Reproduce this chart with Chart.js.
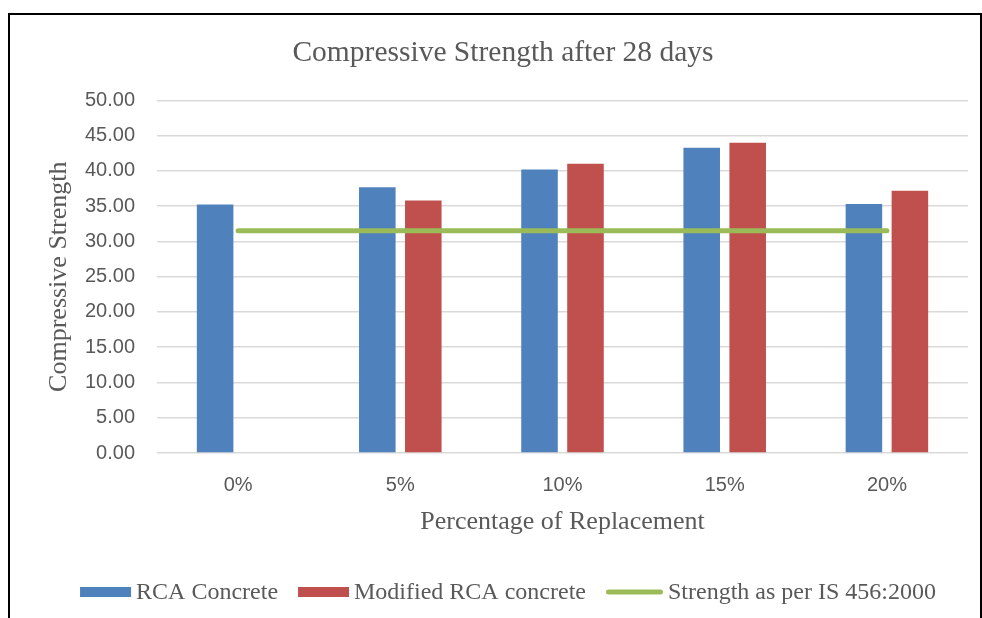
<!DOCTYPE html>
<html>
<head>
<meta charset="utf-8">
<script src="https://cdn.jsdelivr.net/npm/chart.js@4.4.0/dist/chart.umd.min.js"></script>
<style>
  html, body { margin: 0; padding: 0; background: #fff; }
  #wrap { position: relative; width: 982px; height: 618px; overflow: hidden; }
  #wrap canvas { position: absolute; left: 0; top: 0; }
  #frame {
    position: absolute; left: 8px; top: 13px; width: 970px; height: 700px;
    border-top: 2px solid #000; border-left: 2px solid #000; border-right: 2px solid #000;
    pointer-events: none;
  }
</style>
</head>
<body>
<div id="wrap">
  <canvas id="chart" width="982" height="618"></canvas>
  <div id="frame"></div>
</div>
<script>
// Replacement levels of recycled concrete aggregate
const categories = ['0%', '5%', '10%', '15%', '20%'];
// 28-day compressive strength (N/mm²)
const rcaConcrete = [35.25, 37.7, 40.2, 43.3, 35.3];
const modifiedRcaConcrete = [null, 35.8, 41.0, 44.0, 37.2];
// Target strength per IS 456:2000
const isTargetStrength = [31.5, 31.5, 31.5, 31.5, 31.5];
// Value axis
const yMin = 0;
const yMax = 50;
const yStep = 5;

const TEXT = '#595959';
const SERIF = "'Liberation Serif', 'Times New Roman', serif";
const SANS = "'Liberation Sans', Arial, sans-serif";

// Legend drawn under the axis title: filled swatches for bars, a thick rounded stroke for the line
const swatchLegend = {
  id: 'swatchLegend',
  afterDraw(chart, args, opts) {
    const ctx = chart.ctx;
    const items = chart.data.datasets.map(ds => ({
      label: ds.label,
      isLine: ds.type === 'line',
      color: ds.type === 'line' ? ds.borderColor : ds.backgroundColor
    }));
    ctx.save();
    ctx.font = opts.font;
    const widths = items.map(it => {
      const sw = it.isLine ? opts.lineSwatch : opts.barSwatch;
      return sw + opts.textGap + ctx.measureText(it.label).width;
    });
    const total = widths.reduce((a, b) => a + b, 0) + opts.itemGap * (items.length - 1);
    let x = opts.centerX - total / 2;
    const y = opts.y;
    items.forEach((it, i) => {
      const sw = it.isLine ? opts.lineSwatch : opts.barSwatch;
      if (it.isLine) {
        ctx.strokeStyle = it.color;
        ctx.lineWidth = 5;
        ctx.lineCap = 'round';
        ctx.beginPath();
        ctx.moveTo(x + 2.5, y);
        ctx.lineTo(x + sw - 2.5, y);
        ctx.stroke();
      } else {
        ctx.fillStyle = it.color;
        ctx.fillRect(x, y - 5, sw, 10);
      }
      ctx.fillStyle = TEXT;
      ctx.textAlign = 'left';
      ctx.textBaseline = 'middle';
      ctx.fillText(it.label, x + sw + opts.textGap, y + 1);
      x += widths[i] + opts.itemGap;
    });
    ctx.restore();
  }
};

new Chart(document.getElementById('chart'), {
  type: 'bar',
  data: {
    labels: categories,
    datasets: [
      {
        label: 'RCA Concrete',
        data: rcaConcrete,
        backgroundColor: '#4F81BD',
        borderWidth: 0,
        order: 1,
        categoryPercentage: 0.567,
        barPercentage: 0.795
      },
      {
        label: 'Modified RCA concrete',
        data: modifiedRcaConcrete,
        backgroundColor: '#C0504D',
        borderWidth: 0,
        order: 1,
        categoryPercentage: 0.567,
        barPercentage: 0.795
      },
      {
        type: 'line',
        label: 'Strength as per IS 456:2000',
        data: isTargetStrength,
        borderColor: '#9BBB59',
        backgroundColor: '#9BBB59',
        borderWidth: 5,
        borderCapStyle: 'round',
        pointRadius: 0,
        pointHoverRadius: 0,
        fill: false,
        tension: 0,
        order: 0
      }
    ]
  },
  options: {
    responsive: false,
    animation: false,
    devicePixelRatio: 1,
    layout: { padding: { top: 36, left: 38, right: 14, bottom: 80 } },
    plugins: {
      legend: { display: false },
      tooltip: { enabled: false },
      title: {
        display: true,
        text: 'Compressive Strength after 28 days',
        color: TEXT,
        font: { family: SERIF, size: 29.5, weight: 'normal' },
        padding: { top: 0, bottom: 29 }
      },
      swatchLegend: {
        font: "24px " + SERIF,
        barSwatch: 51,
        lineSwatch: 57,
        textGap: 5,
        itemGap: 20,
        centerX: 508,
        y: 592
      }
    },
    scales: {
      x: {
        afterFit(scale) { scale.height = 85; },
        grid: { display: false },
        border: { display: false },
        ticks: {
          color: TEXT,
          padding: 12,
          font: { family: SANS, size: 20 }
        },
        title: {
          display: true,
          text: 'Percentage of Replacement',
          color: TEXT,
          font: { family: SERIF, size: 26, weight: 'normal' },
          padding: { top: 10, bottom: 0 }
        }
      },
      y: {
        min: yMin,
        max: yMax,
        afterFit(scale) { scale.width = 119; },
        grid: { color: '#d9d9d9', lineWidth: 1.5, drawTicks: false },
        border: { display: false },
        ticks: {
          stepSize: yStep,
          color: TEXT,
          padding: 22,
          font: { family: SANS, size: 20 },
          callback: v => Number(v).toFixed(2)
        },
        title: {
          display: true,
          text: 'Compressive Strength',
          color: TEXT,
          font: { family: SERIF, size: 26, weight: 'normal' },
          padding: { top: 6, bottom: 0 }
        }
      }
    }
  },
  plugins: [swatchLegend]
});
</script>
</body>
</html>
